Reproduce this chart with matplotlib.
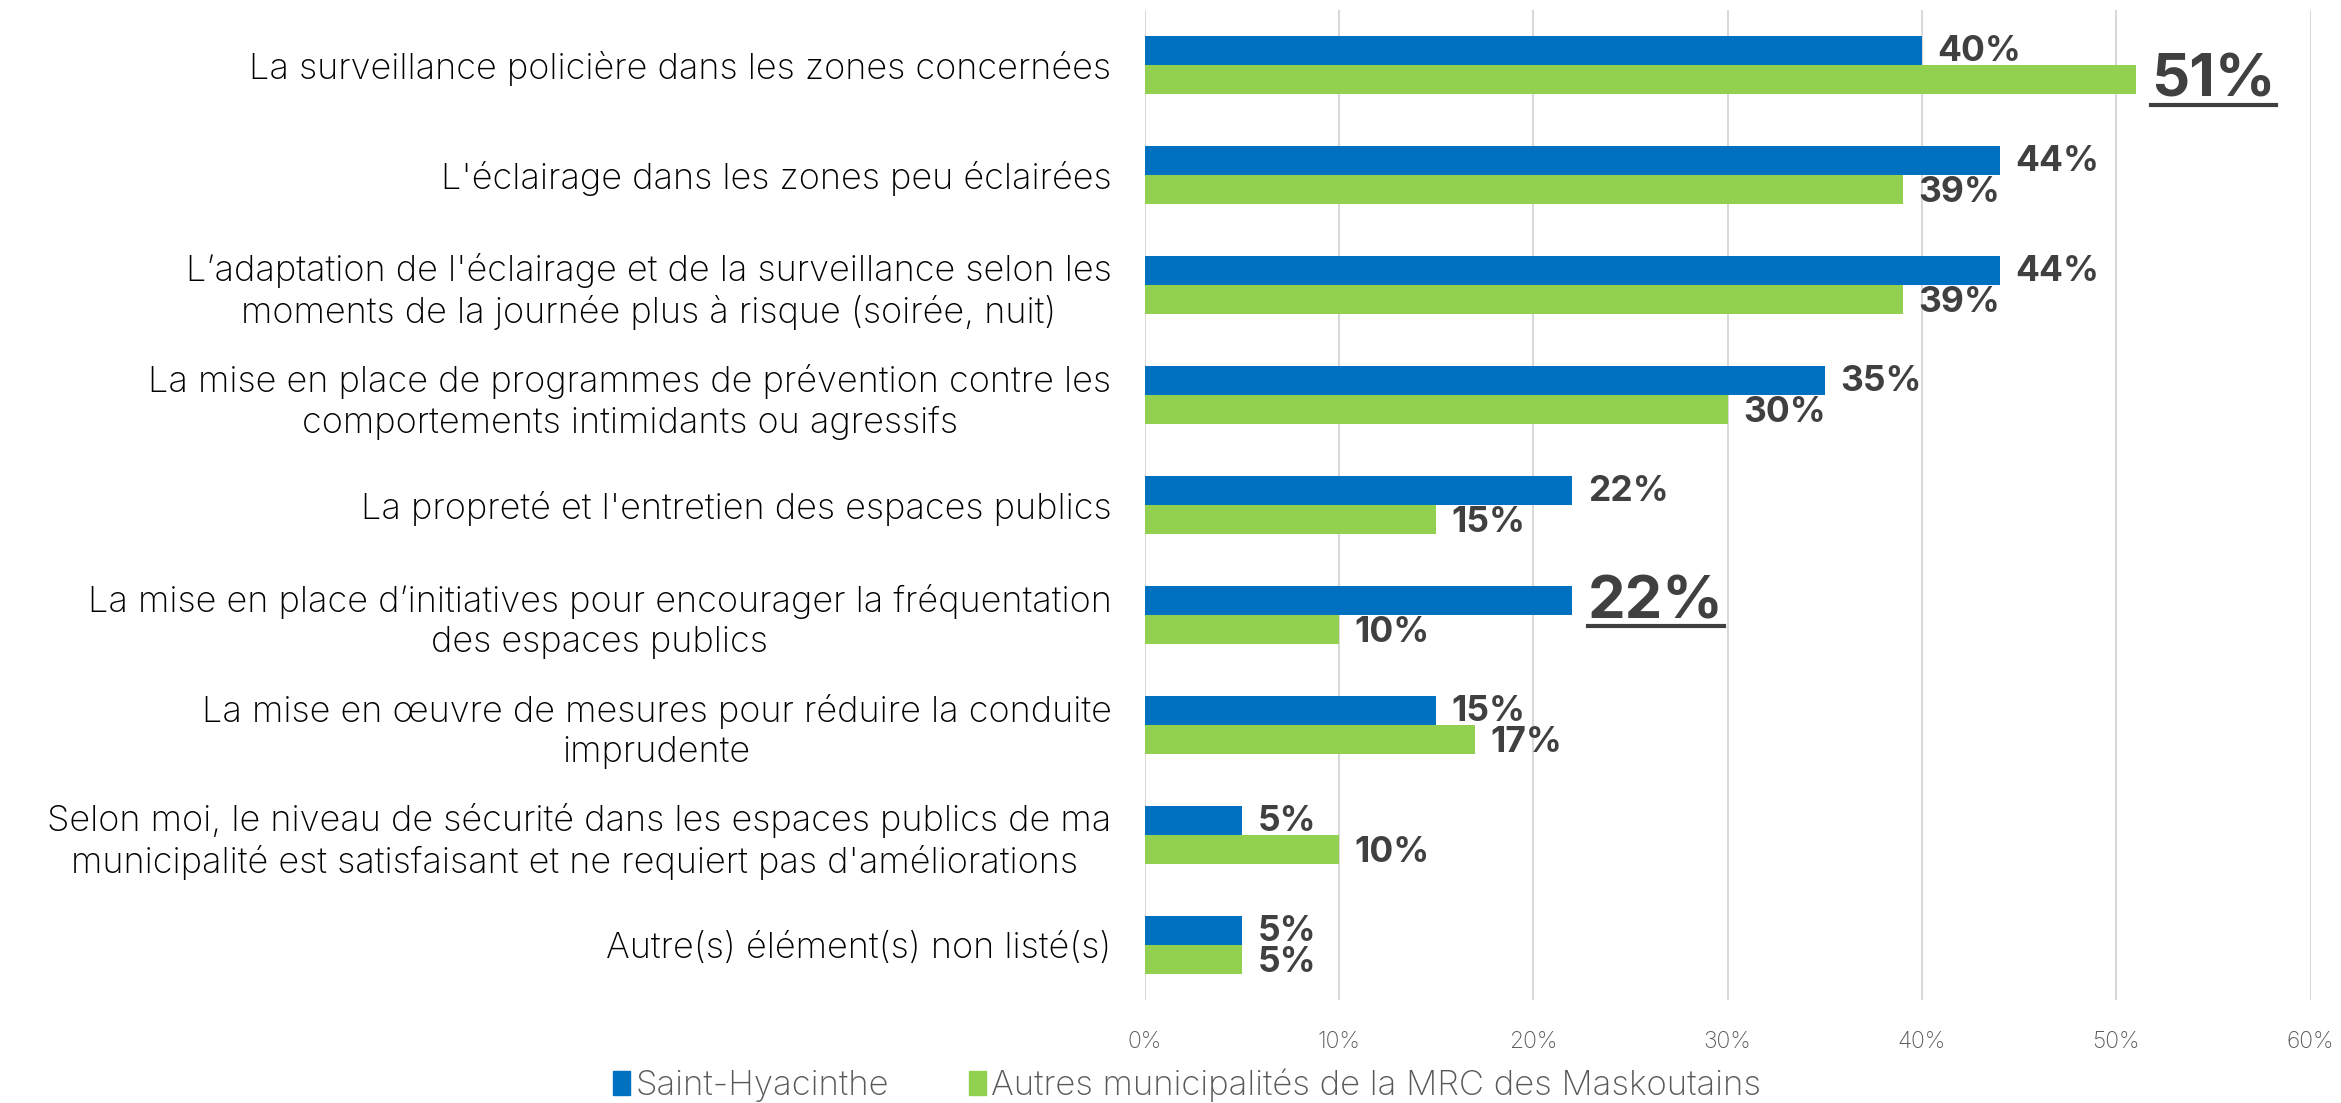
import numpy as np
import matplotlib.pyplot as plt
from matplotlib.patches import Patch
from matplotlib.lines import Line2D

categories = [
    "La surveillance policière dans les zones concernées",
    "L'éclairage dans les zones peu éclairées",
    "L’adaptation de l'éclairage et de la surveillance selon les\nmoments de la journée plus à risque (soirée, nuit)",
    "La mise en place de programmes de prévention contre les\ncomportements intimidants ou agressifs",
    "La propreté et l'entretien des espaces publics",
    "La mise en place d’initiatives pour encourager la fréquentation\ndes espaces publics",
    "La mise en œuvre de mesures pour réduire la conduite\nimprudente",
    "Selon moi, le niveau de sécurité dans les espaces publics de ma\nmunicipalité est satisfaisant et ne requiert pas d'améliorations ",
    "Autre(s) élément(s) non listé(s)",
]
saint_hyacinthe = [40, 44, 44, 35, 22, 22, 15, 5, 5]
autres = [51, 39, 39, 30, 15, 10, 17, 10, 5]
# labels drawn big and underlined
highlight_sh = [5]
highlight_autres = [0]

blue = '#0070C0'
green = '#92D050'
label_col = '#404040'

plt.rcParams['font.family'] = ['Inter', 'DejaVu Sans']

fig = plt.figure(figsize=(23.41, 11.03), dpi=100)
ax = fig.add_axes([0.489, 0.0934, 0.498, 0.8976])

y = np.arange(len(categories))
h = 0.26
ax.barh(y - h / 2, saint_hyacinthe, height=h, color=blue, zorder=3)
ax.barh(y + h / 2, autres, height=h, color=green, zorder=3)

ax.set_xlim(0, 60)
ax.set_ylim(len(categories) - 0.5, -0.5)
ax.set_xticks(range(0, 61, 10))
ax.set_xticklabels([f"{v}%" for v in range(0, 61, 10)])
ax.set_yticks(y)
ax.set_yticklabels(categories, fontsize=26, fontweight='light', multialignment='center',
                   linespacing=1.25)
ax.tick_params(axis='y', length=0, pad=24, colors='black')
ax.tick_params(axis='x', length=0, pad=22, labelsize=16.5, labelcolor='#595959')
for lbl in ax.get_xticklabels():
    lbl.set_fontweight('light')
ax.grid(axis='x', color='#D9D9D9', linewidth=1.5, zorder=0)
for s in ax.spines.values():
    s.set_visible(False)

big = []
for i, v in enumerate(saint_hyacinthe):
    if i in highlight_sh:
        t = ax.text(v + 0.8, i - h / 2 + 0.02, f"{v}%", fontsize=43, fontweight='bold',
                    color=label_col, va='center', ha='left')
        big.append(t)
    else:
        ax.text(v + 0.8, i - h / 2 + 0.01, f"{v}%", fontsize=25.5, fontweight='bold',
                color=label_col, va='center', ha='left')
for i, v in enumerate(autres):
    if i in highlight_autres:
        t = ax.text(v + 0.8, i + h / 2 + 0.02, f"{v}%", fontsize=43, fontweight='bold',
                    color=label_col, va='center', ha='left')
        big.append(t)
    else:
        ax.text(v + 0.8, i + h / 2 + 0.03, f"{v}%", fontsize=25.5, fontweight='bold',
                color=label_col, va='center', ha='left')

handles = [Patch(color=blue, label='Saint-Hyacinthe'),
           Patch(color=green, label='Autres municipalités de la MRC des Maskoutains')]
leg = fig.legend(handles=handles, loc='center', bbox_to_anchor=(0.507, 0.016), ncol=2,
                 frameon=False, fontsize=25, handlelength=0.5, handleheight=0.7,
                 handletextpad=0.15, columnspacing=2.3)
for txt in leg.get_texts():
    txt.set_color('#595959')
    txt.set_fontweight('light')

# underline the highlighted labels
fig.canvas.draw()
r = fig.canvas.get_renderer()
inv = fig.transFigure.inverted()
for t in big:
    bb = t.get_window_extent(r)
    (x0, y0), (x1, y1) = inv.transform([(bb.x0, bb.y0 + 4), (bb.x1, bb.y0 + 4)])
    fig.add_artist(Line2D([x0, x1], [y0, y1], color=label_col, linewidth=3))

fig.savefig('out.png', dpi=100)
